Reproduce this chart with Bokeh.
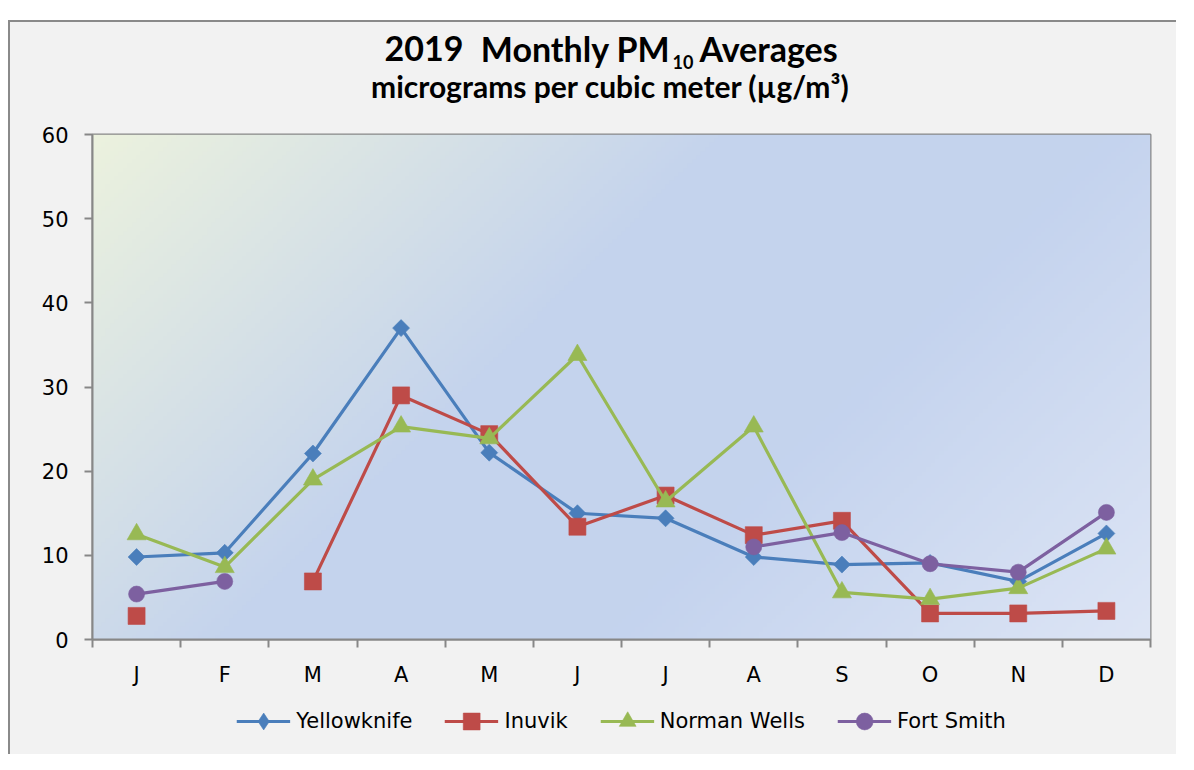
import numpy as np
from bokeh.plotting import figure
from bokeh.models import (ColumnDataSource, FixedTicker, Label, Legend, LegendItem,
                          Range1d, Spacer)
from bokeh.layouts import column, row
from bokeh.embed import file_html
from bokeh.resources import INLINE

# ---------------- data ----------------
months = ["J", "F", "M", "A", "M", "J", "J", "A", "S", "O", "N", "D"]
month_pos = list(range(1, 13))
nan = float("nan")
yellowknife = [9.8, 10.3, 22.1, 37.0, 22.2, 15.0, 14.4, 9.8, 8.9, 9.1, 6.9, 12.6]
inuvik = [2.8, nan, 6.9, 29.0, 24.4, 13.4, 17.1, 12.4, 14.1, 3.1, 3.1, 3.4]
norman_wells = [12.5, 8.6, 19.0, 25.3, 23.9, 33.8, 16.4, 25.3, 5.6, 4.8, 6.1, 10.8]
fort_smith = [5.4, 6.9, nan, nan, nan, nan, nan, 11.0, 12.7, 9.0, 8.0, 15.1]
y_ticks = [0, 10, 20, 30, 40, 50, 60]

series = [
    # name, values, colour, marker (plot), size, angle, marker (legend)
    ("Yellowknife", yellowknife, "#4A7EBB", "square", 12, np.pi / 4, "diamond"),
    ("Inuvik", inuvik, "#BE4B48", "square", 17, 0.0, "square"),
    ("Norman Wells", norman_wells, "#98B954", "triangle", 19, 0.0, "triangle"),
    ("Fort Smith", fort_smith, "#7D60A0", "circle", 16, 0.0, "circle"),
]

BX, BY = 10, 22            # canvas origin in picture pixels
W = 1168
T = 92                     # title strip height (incl. 2px css border)
H1 = 698 - (20 + T)        # main chart canvas height
H2 = 56                    # legend strip height
FL, FR, FT, FB = 92, 1150, 134, 639   # plot-area edges in picture pixels
BORDER = "2px solid #8a8a8a"
BG = "#F2F2F2"

# ---------------- title strip ----------------
tt = figure(width=W, height=T, output_backend="svg", toolbar_location=None, title=None,
            x_range=Range1d(0, W), y_range=Range1d(0, T),
            x_axis_location=None, y_axis_location=None,
            min_border_left=0, min_border_right=0, min_border_top=0, min_border_bottom=0,
            background_fill_color=BG, border_fill_color=BG, outline_line_color=None,
            styles={"border-left": BORDER, "border-top": BORDER})
tt.grid.visible = False

def lab(txt, x_pic, y_pic, size, align="left"):
    return Label(x=x_pic - BX, y=y_pic - BY, x_units="canvas", y_units="canvas",
                 text=txt, text_font="Lato", text_font_style="bold",
                 text_font_size=size, text_align=align,
                 text_baseline="alphabetic", text_color="#000000")

tt.add_layout(lab("2019", 382, 46, "34px", "left"))
tt.add_layout(lab("Monthly PM", 668, 46, "34px", "right"))
tt.add_layout(lab("10", 670, 59, "18px", "left"))
tt.add_layout(lab("Averages", 697, 46, "34px", "left"))
tt.add_layout(lab("micrograms per cubic meter (µg/m³)", 608, 83, "30px", "center"))

# ---------------- main chart ----------------
top0 = 20 + T
p = figure(width=W, height=H1, output_backend="svg", toolbar_location=None,
           x_range=Range1d(0.5, 12.5), y_range=Range1d(0, 60),
           min_border_left=FL - BX, min_border_right=BX + W - FR,
           min_border_top=FT - top0, min_border_bottom=top0 + H1 - FB,
           background_fill_color="#C5D4EE", border_fill_color=BG,
           outline_line_color="#878787", outline_line_width=2,
           styles={"border-left": BORDER})

# gradient background of plot area (decorative)
nx, ny = 240, 120
fw, fh = float(FR - FL), float(FB - FT)
ii, jj = np.meshgrid(np.arange(nx), np.arange(ny))
sx = ii / (nx - 1) * fw
sy = (1 - jj / (ny - 1)) * fh
t = (sx + sy) / (fw + fh)
stops_t = [0.0, 0.4, 0.65, 1.0]
stops_c = [(236, 242, 222), (197, 212, 237), (196, 211, 238), (221, 229, 245)]
img = np.empty((ny, nx), dtype=np.uint32)
view = img.view(dtype=np.uint8).reshape((ny, nx, 4))
for k in range(3):
    view[:, :, k] = np.interp(t, stops_t, [c[k] for c in stops_c]).astype(np.uint8)
view[:, :, 3] = 255
p.image_rgba(image=[img], x=0.5, y=0, dw=12, dh=60)

for name, vals, col, mk, sz, ang, _ in series:
    src = ColumnDataSource(dict(x=month_pos, y=vals))
    p.line("x", "y", source=src, line_color=col, line_width=3.2)
    p.scatter("x", "y", source=src, marker=mk, size=sz, angle=ang,
              fill_color=col, line_color=col, line_alpha=0.6)

p.xaxis.ticker = FixedTicker(ticks=month_pos, minor_ticks=[m + 0.5 for m in range(0, 13)])
p.xaxis.major_label_overrides = {m: lab_ for m, lab_ in zip(month_pos, months)}
p.xaxis.major_tick_line_color = None
p.xaxis.major_tick_out = 0
p.xaxis.major_tick_in = 0
p.xaxis.minor_tick_line_color = "#878787"
p.xaxis.minor_tick_line_width = 2
p.xaxis.minor_tick_out = 8
p.xaxis.minor_tick_in = 0
p.xaxis.major_label_standoff = 15

p.yaxis.ticker = FixedTicker(ticks=y_ticks, minor_ticks=[])
p.yaxis.major_tick_line_color = "#878787"
p.yaxis.major_tick_line_width = 2
p.yaxis.major_tick_out = 8
p.yaxis.major_tick_in = 0
p.yaxis.major_label_standoff = 16

for ax in (p.xaxis, p.yaxis):
    ax.axis_line_color = "#878787"
    ax.axis_line_width = 2
    ax.major_label_text_font = "DejaVu Sans"
    ax.major_label_text_font_size = "21px"
    ax.major_label_text_color = "#000000"

p.xgrid.grid_line_color = None
p.ygrid.ticker = FixedTicker(ticks=[10, 20, 30, 40, 50])
p.ygrid.grid_line_color = "#8a8a8a"
p.ygrid.grid_line_width = 2
p.ygrid.grid_line_dash = "2 2"

# ---------------- legend strip ----------------
LEG_CENTER = 624   # picture x of legend centre
q = figure(width=W, height=H2, output_backend="svg", toolbar_location=None, title=None,
           x_range=Range1d(0, 1), y_range=Range1d(0, 1),
           x_axis_location=None, y_axis_location=None,
           min_border_left=2 * (LEG_CENTER - BX) - W, min_border_right=0,
           min_border_top=2, min_border_bottom=12,
           background_fill_color=BG, border_fill_color=BG,
           outline_line_color=None, styles={"border-left": BORDER})
q.grid.visible = False
items = []
for name, vals, col, mk, sz, ang, lmk in series:
    off = ColumnDataSource(dict(x=[-5.0, -4.0], y=[-5.0, -5.0]))  # swatch only, off-frame
    ln = q.line("x", "y", source=off, line_color=col, line_width=3.2)
    sc = q.scatter("x", "y", source=off, marker=lmk, size=sz,
                   fill_color=col, line_color=col, line_alpha=0.6)
    items.append(LegendItem(label=name, renderers=[ln, sc]))
legend = Legend(items=items, orientation="horizontal", location="center",
                glyph_width=54, glyph_height=42, label_standoff=6, spacing=32,
                padding=0, margin=0, border_line_color=None, background_fill_alpha=0,
                label_text_font="DejaVu Sans", label_text_font_size="21px",
                label_text_color="#000000")
q.add_layout(legend)

inner = column(tt, p, q, styles={"background-color": BG})
layout = row(Spacer(width=8), column(Spacer(height=20), inner))
open("out.html", "w").write(file_html(layout, INLINE))
